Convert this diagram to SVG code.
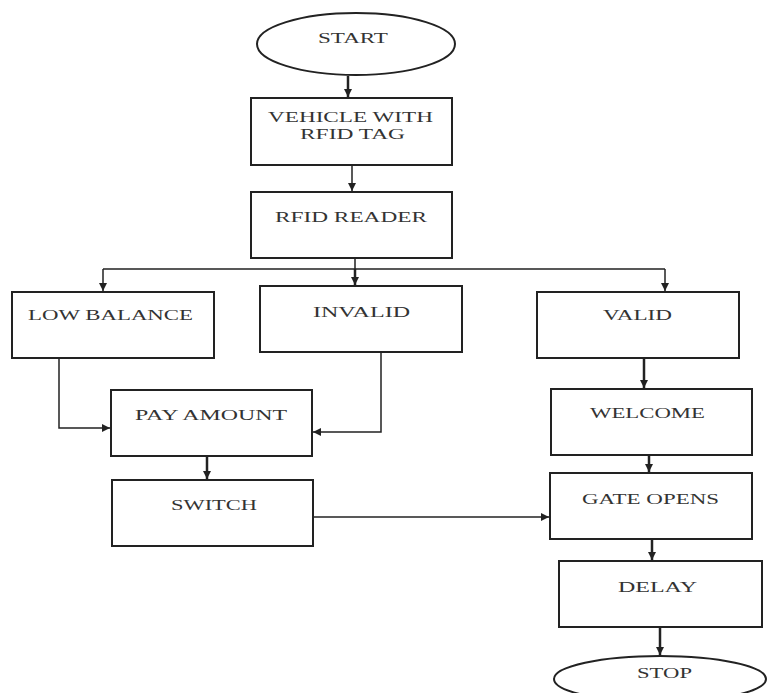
<svg xmlns="http://www.w3.org/2000/svg" width="771" height="693" viewBox="0 0 771 693">
<defs>
<marker id="ah" viewBox="0 0 10 10" refX="10" refY="5" markerWidth="8" markerHeight="8" orient="auto" markerUnits="userSpaceOnUse">
<path d="M0,0 L10,5 L0,10 z" fill="#222"/>
</marker>
<style>
.box{fill:#fff;stroke:#222;stroke-width:2}
.t{font-family:"Liberation Serif","Times New Roman",serif;font-size:14px;fill:#333;text-anchor:start}
.c{fill:none;stroke:#222;stroke-width:1.5}
.ca{fill:none;stroke:#222;stroke-width:2.5}
</style>
</defs>
<rect width="771" height="693" fill="#fff"/>
<g id="connectors">
<path class="ca" d="M348,76 V97" marker-end="url(#ah)"/>
<path class="c" d="M352,165 V191" marker-end="url(#ah)"/>
<path class="c" d="M355,258 V269 M103,269 H665"/>
<path class="c" d="M103,269 V291" marker-end="url(#ah)"/>
<path class="ca" d="M355,269 V285" marker-end="url(#ah)"/>
<path class="c" d="M665,269 V291" marker-end="url(#ah)"/>
<path class="c" d="M59,358 V428 H110" marker-end="url(#ah)"/>
<path class="c" d="M381,352 V432 H313" marker-end="url(#ah)"/>
<path class="ca" d="M644,358 V388" marker-end="url(#ah)"/>
<path class="ca" d="M207,456 V479" marker-end="url(#ah)"/>
<path class="c" d="M313,517 H549" marker-end="url(#ah)"/>
<path class="ca" d="M649,455 V472" marker-end="url(#ah)"/>
<path class="ca" d="M652,539 V560" marker-end="url(#ah)"/>
<path class="ca" d="M660,627 V655" marker-end="url(#ah)"/>
</g>
<g id="start"><ellipse class="box" cx="356" cy="44" rx="99" ry="31"/><text class="t" x="318" y="43" textLength="70" lengthAdjust="spacingAndGlyphs">START</text></g>
<g id="vehicle"><rect class="box" x="251" y="98" width="201" height="67"/><text class="t" x="268" y="122" textLength="165" lengthAdjust="spacingAndGlyphs">VEHICLE WITH</text><text class="t" x="300" y="139" textLength="105" lengthAdjust="spacingAndGlyphs">RFID TAG</text></g>
<g id="reader"><rect class="box" x="251" y="192" width="201" height="66"/><text class="t" x="275" y="222" textLength="152" lengthAdjust="spacingAndGlyphs">RFID READER</text></g>
<g id="low"><rect class="box" x="12" y="292" width="202" height="66"/><text class="t" x="28" y="320" textLength="165" lengthAdjust="spacingAndGlyphs">LOW BALANCE</text></g>
<g id="invalid"><rect class="box" x="260" y="286" width="202" height="66"/><text class="t" x="313" y="317" textLength="97" lengthAdjust="spacingAndGlyphs">INVALID</text></g>
<g id="valid"><rect class="box" x="537" y="292" width="202" height="66"/><text class="t" x="603" y="320" textLength="69" lengthAdjust="spacingAndGlyphs">VALID</text></g>
<g id="pay"><rect class="box" x="111" y="390" width="201" height="66"/><text class="t" x="135" y="420" textLength="152" lengthAdjust="spacingAndGlyphs">PAY AMOUNT</text></g>
<g id="welcome"><rect class="box" x="551" y="389" width="201" height="66"/><text class="t" x="590" y="418" textLength="115" lengthAdjust="spacingAndGlyphs">WELCOME</text></g>
<g id="switch"><rect class="box" x="112" y="480" width="201" height="66"/><text class="t" x="171" y="510" textLength="86" lengthAdjust="spacingAndGlyphs">SWITCH</text></g>
<g id="gate"><rect class="box" x="550" y="473" width="202" height="66"/><text class="t" x="582" y="504" textLength="137" lengthAdjust="spacingAndGlyphs">GATE OPENS</text></g>
<g id="delay"><rect class="box" x="559" y="561" width="203" height="66"/><text class="t" x="618" y="592" textLength="79" lengthAdjust="spacingAndGlyphs">DELAY</text></g>
<g id="stop"><ellipse class="box" cx="660" cy="679" rx="106" ry="23"/><text class="t" x="637" y="678" textLength="55" lengthAdjust="spacingAndGlyphs">STOP</text></g>
</svg>
